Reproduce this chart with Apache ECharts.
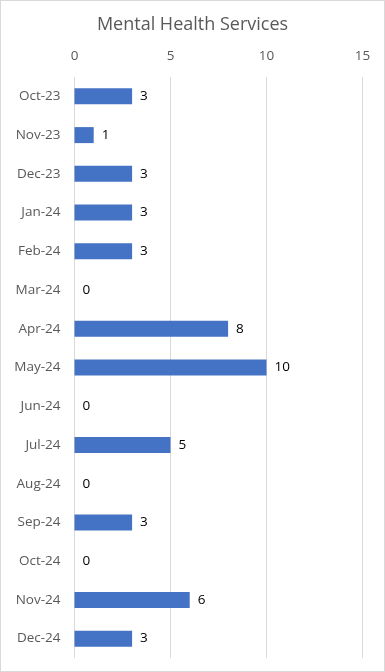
<!DOCTYPE html>
<html><head><meta charset="utf-8">
<script src="https://cdn.jsdelivr.net/npm/echarts@6/dist/echarts.min.js"></script>
<style>html,body{margin:0;padding:0;background:#fff}#c{width:385px;height:672px;box-sizing:border-box;border:1px solid #d9d9d9}</style>
</head><body><div id="c"></div>
<script>
const categories = ['Oct-23','Nov-23','Dec-23','Jan-24','Feb-24','Mar-24','Apr-24','May-24','Jun-24','Jul-24','Aug-24','Sep-24','Oct-24','Nov-24','Dec-24'];
const values = [3,1,3,3,3,0,8,10,0,5,0,3,0,6,3];
const chart = echarts.init(document.getElementById('c'), null, {renderer:'canvas'});
chart.setOption({
  animation:false,
  title:{text:'Mental Health Services',left:'center',top:10,textStyle:{fontFamily:'Open Sans, Calibri, sans-serif',fontSize:18,fontWeight:'normal',color:'#595959'}},
  grid:{left:73.5,right:21.5,top:76,bottom:13,containLabel:false},
  xAxis:{type:'value',position:'top',min:0,max:15,interval:5,
    axisLine:{show:false},axisTick:{show:false},
    axisLabel:{color:'#595959',fontFamily:'Open Sans, Calibri, sans-serif',fontSize:13.5,margin:14},
    splitLine:{lineStyle:{color:'#d9d9d9',width:1}}},
  yAxis:{type:'category',inverse:true,data:categories,
    axisLine:{show:false},axisTick:{show:false},
    axisLabel:{color:'#595959',fontFamily:'Open Sans, Calibri, sans-serif',fontSize:13.5,margin:14}},
  series:[{type:'bar',data:values,barWidth:16,itemStyle:{color:'#4472c4'},
    label:{show:true,position:'right',distance:8,color:'#000',fontFamily:'Open Sans, Calibri, sans-serif',fontSize:13.5}}]
});
</script></body></html>
